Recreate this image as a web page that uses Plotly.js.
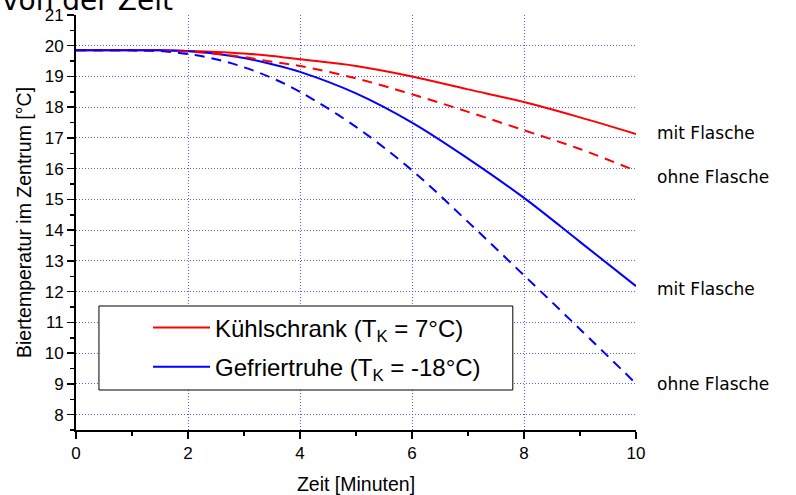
<!DOCTYPE html>
<html><head><meta charset="utf-8">
<script src="https://cdn.plot.ly/plotly-3.0.1.min.js"></script>
<style>html,body{margin:0;padding:0;background:#fff}#chart{width:796px;height:495px}</style>
</head><body><div id="chart"></div>
<script>
const zeit = [0, 1, 1.5, 2, 2.5, 3, 3.5, 4, 5, 6, 7, 8, 9, 10];
const kuehlMit   = [19.85, 19.85, 19.85, 19.83, 19.80, 19.75, 19.67, 19.56, 19.34, 19.00, 18.58, 18.17, 17.67, 17.13];
const kuehlOhne  = [19.85, 19.85, 19.84, 19.81, 19.74, 19.63, 19.48, 19.34, 18.94, 18.42, 17.85, 17.25, 16.64, 15.93];
const gefrierMit = [19.85, 19.85, 19.85, 19.82, 19.74, 19.60, 19.40, 19.15, 18.45, 17.50, 16.33, 15.05, 13.62, 12.18];
const gefrierOhne= [19.85, 19.85, 19.83, 19.73, 19.56, 19.30, 18.95, 18.50, 17.36, 15.95, 14.27, 12.53, 10.78, 9.01];
const xTicks = [0, 2, 4, 6, 8, 10];
const xGrid = [2, 4, 6, 8];
const yGrid = [8, 9, 10, 11, 12, 13, 14, 15, 16, 17, 18, 19, 20];
const legendNames = ["Kühlschrank (T<sub>K</sub> = 7°C)", "Gefriertruhe (T<sub>K</sub> = -18°C)"];
const sideLabels = ["mit Flasche", "ohne Flasche", "mit Flasche", "ohne Flasche"];
const sideLabelY = [17.16, 15.72, 12.08, 9.01];

const RED = "#ff0000", BLUE = "#0000ff";
const traces = [
  {x: zeit, y: kuehlMit, mode: "lines", line: {color: RED, width: 2, shape: "spline"}, name: legendNames[0], legendgroup: "a"},
  {x: zeit, y: gefrierMit, mode: "lines", line: {color: BLUE, width: 2, shape: "spline"}, name: legendNames[1], legendgroup: "b"},
  {x: zeit, y: kuehlOhne, mode: "lines", line: {color: RED, width: 2, dash: "10px,7px", shape: "spline"}, showlegend: false},
  {x: zeit, y: gefrierOhne, mode: "lines", line: {color: BLUE, width: 2, dash: "10px,7px", shape: "spline"}, showlegend: false},
  {x: [0], y: [8], xaxis: "x2", yaxis: "y2", mode: "markers", marker: {opacity: 0}, showlegend: false, hoverinfo: "skip"}
];
const font = {family: "Liberation Sans, Arial, sans-serif", color: "#000"};
const gridStyle = {gridcolor: "rgba(60,60,255,0.85)", gridwidth: 1, griddash: "1px,2px"};
const layout = {
  width: 796, height: 495,
  margin: {l: 76, r: 160, t: 15, b: 65},
  paper_bgcolor: "#fff", plot_bgcolor: "#fff",
  font: font,
  showlegend: true,
  legend: {x: 0.1286, y: 0.199, xanchor: "left", yanchor: "middle", bgcolor: "rgba(0,0,0,0)", borderwidth: 0,
           font: {family: font.family, size: 24, color: "#000"}, traceorder: "grouped", tracegroupgap: 5, itemwidth: 57},
  shapes: [{type: "rect", xref: "paper", yref: "paper", x0: 0.041, x1: 0.780, y0: 0.0964, y1: 0.2988,
            fillcolor: "#fff", line: {color: "#000", width: 1}, layer: "above"}],
  xaxis: {range: [0, 10], tickvals: xTicks, ticks: "outside", ticklen: 7, tickwidth: 1.5, tickcolor: "#000",
          minor: {dtick: 1, ticks: "outside", ticklen: 4, tickwidth: 1.5, tickcolor: "#000", showgrid: false},
          showline: true, linecolor: "#000", linewidth: 2, showgrid: false, zeroline: false,
          tickfont: {size: 17}, title: {text: "Zeit [Minuten]", font: {size: 19.5}, standoff: 16}},
  yaxis: {range: [7.5, 21], dtick: 1, tick0: 0, ticks: "outside", ticklen: 7, tickwidth: 1.5, tickcolor: "#000",
          minor: {dtick: 0.5, ticks: "outside", ticklen: 4, tickwidth: 1.5, tickcolor: "#000", showgrid: false},
          showline: true, linecolor: "#000", linewidth: 2, showgrid: false, zeroline: false,
          tickfont: {size: 17}, title: {text: "Biertemperatur im Zentrum [°C]", font: {size: 19.5}, standoff: 8}},
  xaxis2: Object.assign({overlaying: "x", range: [0, 10], tickvals: xGrid, showticklabels: false, ticks: "", showgrid: true, showline: false, zeroline: false}, gridStyle),
  yaxis2: Object.assign({overlaying: "y", range: [7.5, 21], tickvals: yGrid, showticklabels: false, ticks: "", showgrid: true, showline: false, zeroline: false}, gridStyle),
  annotations: sideLabels.map((t, i) => ({text: t, xref: "paper", x: 1.034, xanchor: "left", yref: "y", y: sideLabelY[i], yanchor: "middle",
      showarrow: false, font: {family: "DejaVu Sans, sans-serif", size: 17, color: "#000"}})).concat([
      {text: "von der Zeit", xref: "paper", yref: "paper", x: -0.136, y: 1.036, xanchor: "left", yanchor: "middle", showarrow: false,
       font: {family: "DejaVu Sans, sans-serif", size: 28, color: "#000"}}])
};
Plotly.newPlot("chart", traces, layout, {displayModeBar: false, staticPlot: true});
</script></body></html>
